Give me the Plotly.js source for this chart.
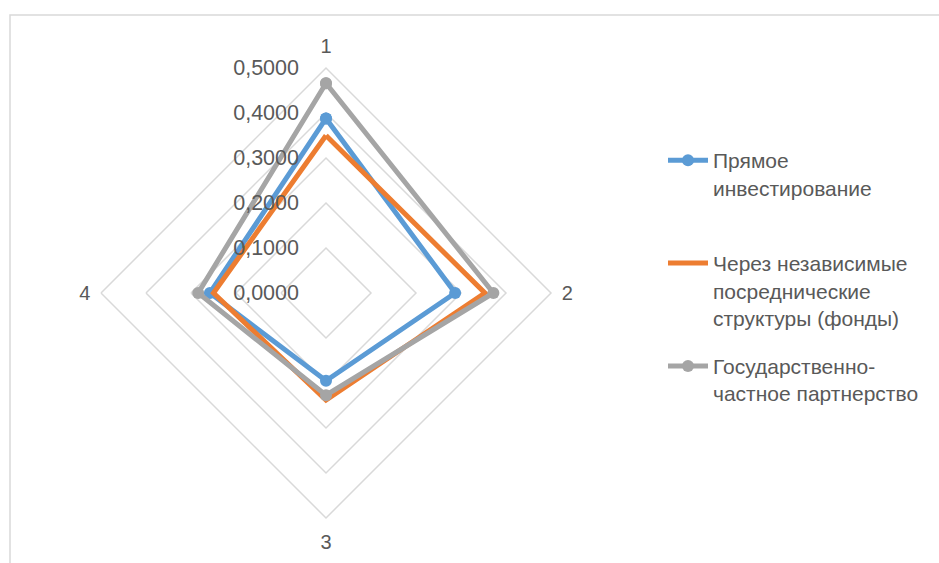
<!DOCTYPE html>
<html>
<head>
<meta charset="utf-8">
<script src="https://cdn.plot.ly/plotly-3.0.1.min.js"></script>
<style>html,body{margin:0;padding:0;background:#fff;}#chart{width:939px;height:563px;}</style>
</head>
<body>
<div id="chart"></div>
<script>
const categories = ["1", "2", "3", "4"];
const seriesNames = [
  "Прямое<br>инвестирование<br> ",
  "Через независимые<br>посреднические<br>структуры (фонды)",
  "Государственно-<br>частное партнерство"
];
const directInvest = [0.388, 0.287, 0.195, 0.258];
const funds = [0.350, 0.353, 0.238, 0.250];
const ppp = [0.466, 0.372, 0.227, 0.284];
const radialTicks = [0, 0.1, 0.2, 0.3, 0.4, 0.5];

const colors = ["#5B9BD5", "#ED7D31", "#A5A5A5"];
const close = a => a.concat([a[0]]);
const theta = close(categories);

function tr(vals, i, withMarkers) {
  return {
    type: "scatterpolar",
    r: close(vals),
    theta: theta,
    name: seriesNames[i],
    legendgroup: "g" + i,
    mode: withMarkers ? "lines+markers" : "lines",
    line: {color: colors[i], width: 5},
    marker: {color: colors[i], size: 12},
    cliponaxis: false
  };
}

const data = [tr(directInvest, 0, true), tr(funds, 1, false), tr(ppp, 2, true)];

const font = {family: "Liberation Sans, Arial, sans-serif", size: 20, color: "#595959"};
const tickFont = {family: "Liberation Sans, Arial, sans-serif", size: 21.5, color: "#595959"};
const legFont = {family: "Liberation Sans, Arial, sans-serif", size: 21, color: "#595959"};

const layout = {
  width: 939, height: 563,
  margin: {l: 0, r: 0, t: 0, b: 0},
  paper_bgcolor: "#fff",
  font: font,
  separators: ", ",
  showlegend: true,
  legend: {
    x: 663/939, y: (563-140)/563, xanchor: "left", yanchor: "top",
    font: legFont, valign: "top", tracegroupgap: 18, itemwidth: 40,
    bgcolor: "rgba(0,0,0,0)"
  },
  polar: {
    domain: {x: [101/939, 551/939], y: [45/563, 495/563]},
    gridshape: "linear",
    bgcolor: "rgba(0,0,0,0)",
    radialaxis: {
      range: [0, 0.5], tickvals: radialTicks, tickformat: ".4f",
      angle: 90, side: "counterclockwise", tickangle: 90,
      showline: false, showgrid: true, gridcolor: "#D9D9D9", gridwidth: 1.5,
      ticks: "outside", ticklen: 19, tickcolor: "rgba(0,0,0,0)",
      tickfont: tickFont
    },
    angularaxis: {
      type: "category", categoryarray: categories,
      rotation: 90, direction: "clockwise",
      showgrid: false, showline: true, linecolor: "#D9D9D9", linewidth: 1.5,
      ticks: "outside", ticklen: 6, tickcolor: "rgba(0,0,0,0)",
      tickfont: font
    }
  },
  shapes: [{
    type: "rect", xref: "paper", yref: "paper",
    x0: 10/939, x1: 1.2, y0: -0.2, y1: (563-15)/563,
    line: {color: "#D9D9D9", width: 1.5}, fillcolor: "rgba(0,0,0,0)", layer: "below"
  }]
};

Plotly.newPlot("chart", data, layout, {staticPlot: true});
</script>
</body>
</html>
